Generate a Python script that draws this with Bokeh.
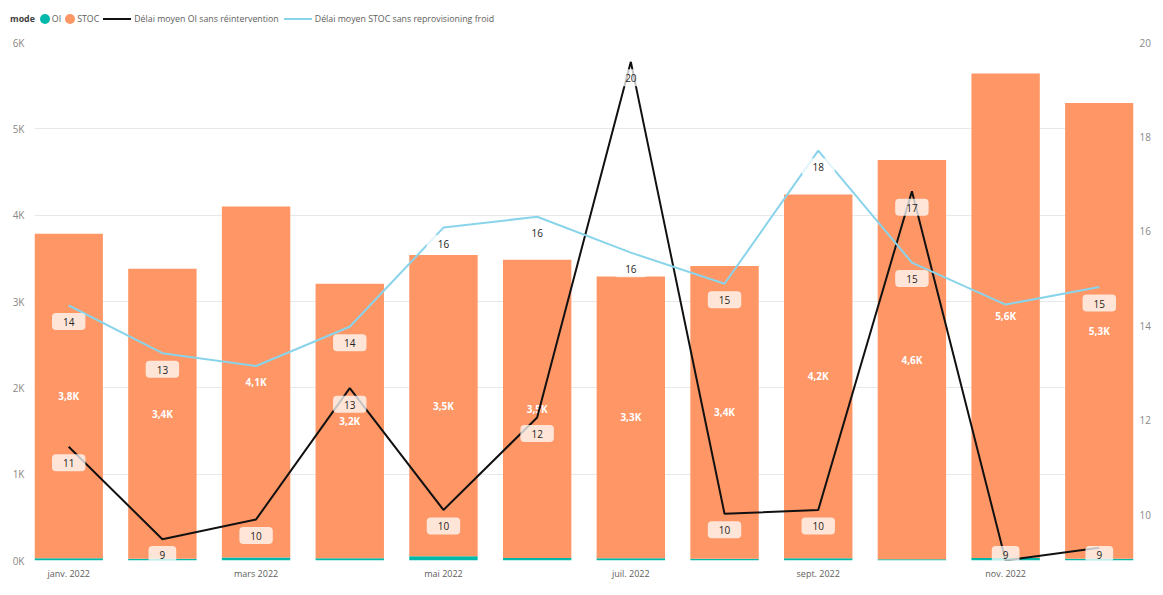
from bokeh.plotting import figure
from bokeh.layouts import column
from bokeh.models import (ColumnDataSource, Range1d, LinearAxis, FixedTicker, Div)
from bokeh.core.properties import value
from bokeh.embed import file_html
from bokeh.resources import INLINE

# ---------------- data ----------------
months = ["janv. 2022", "févr. 2022", "mars 2022", "avr. 2022", "mai 2022", "juin 2022",
          "juil. 2022", "août 2022", "sept. 2022", "oct. 2022", "nov. 2022", "déc. 2022"]
oi_count = [25, 20, 35, 25, 50, 30, 25, 20, 25, 15, 30, 20]
stoc_count = [3760, 3360, 4065, 3180, 3490, 3455, 3265, 3390, 4215, 4625, 5610, 5280]
delai_oi = [11.44, 9.48, 9.90, 12.68, 10.10, 12.06, 19.59, 10.02, 10.10, 16.85, 9.03, 9.30]
delai_stoc = [14.43, 13.42, 13.15, 13.98, 16.08, 16.31, 15.55, 14.89, 17.71, 15.34, 14.45, 14.82]
left_ticks = [0, 1000, 2000, 3000, 4000, 5000, 6000]
left_tick_labels = ["0K", "1K", "2K", "3K", "4K", "5K", "6K"]
right_ticks = [10, 12, 14, 16, 18, 20]
x_label_idx = [0, 2, 4, 6, 8, 10]
hidden_stoc_labels = [2, 10]   # labels hidden by Power BI (overlap)
legend_title = "mode"
series_names = ["OI", "STOC"]
line_names = ["Délai moyen OI sans réintervention",
              "Délai moyen STOC sans reprovisioning froid"]

# ---------------- style ----------------
TEAL = "#01B8AA"
ORANGE = "#FE9666"
LBLUE = "#8AD4EB"
BLACK = "#111111"
FONT = "Open Sans"

W = 1147
LH = 30                      # legend strip height
FW, FH = 1099, 518
ML, MR, MT, MB = 34, 14, 12, 19
R_MIN, R_MAX = 9.03, 20
bar_w = 0.73

n = len(months)
xs = list(range(n))

# ---------------- legend strip ----------------
def dot(c):
    return ('<span style="display:inline-block;width:10px;height:10px;border-radius:50%%;'
            'background:%s;margin-right:2px"></span>' % c)


def seg(c):
    return ('<span style="display:inline-block;width:28px;height:2px;background:%s;'
            'margin-right:3px"></span>' % c)


html = ('<div style="display:flex;align-items:center;box-sizing:border-box;height:%dpx;'
        'padding:8px 0 0 10px;font-family:\'%s\';font-size:8.8px;color:#605E5C;white-space:nowrap">'
        % (LH, FONT))
html += '<span style="font-weight:bold;color:#404040;margin-right:5px">%s</span>' % legend_title
html += dot(TEAL) + '<span style="margin-right:4px">%s</span>' % series_names[0]
html += dot(ORANGE) + '<span style="margin-right:4px">%s</span>' % series_names[1]
html += seg(BLACK) + '<span style="margin-right:5px">%s</span>' % line_names[0]
html += seg(LBLUE) + '<span>%s</span>' % line_names[1]
html += '</div>'
legend_div = Div(text=html, width=W, height=LH, margin=0)

# ---------------- chart ----------------
p = figure(frame_width=FW, frame_height=FH, output_backend="svg", toolbar_location=None,
           x_range=Range1d(-bar_w / 2, n - 1 + bar_w / 2), y_range=Range1d(0, 6000),
           min_border_left=ML, min_border_right=MR, min_border_top=MT, min_border_bottom=MB,
           title=None)
p.extra_y_ranges = {"delai": Range1d(R_MIN, R_MAX)}
p.outline_line_color = None
p.xgrid.visible = False
p.ygrid.grid_line_color = "#E8E8E8"
p.ygrid.ticker = FixedTicker(ticks=left_ticks)

xa = p.xaxis[0]
xa.ticker = FixedTicker(ticks=x_label_idx)
xa.major_label_overrides = {i: months[i] for i in x_label_idx}
ya = p.yaxis[0]
ya.ticker = FixedTicker(ticks=left_ticks)
ya.major_label_overrides = {t: l for t, l in zip(left_ticks, left_tick_labels)}
ra = LinearAxis(y_range_name="delai", ticker=FixedTicker(ticks=right_ticks))
p.add_layout(ra, "right")
for ax, fs, col in ((xa, "9px", "#605E5C"), (ya, "10px", "#8A8886"), (ra, "10px", "#8A8886")):
    ax.axis_line_color = None
    ax.major_tick_line_color = None
    ax.minor_tick_line_color = None
    ax.major_tick_out = 0
    ax.major_tick_in = 0
    ax.minor_tick_out = 0
    ax.minor_tick_in = 0
    ax.major_label_text_font = FONT
    ax.major_label_text_font_size = fs
    ax.major_label_text_color = col
xa.major_label_standoff = 6
ya.major_label_standoff = 10
ra.major_label_standoff = 6

# bars
tops = [o + s for o, s in zip(oi_count, stoc_count)]
mids = [o + s / 2 for o, s in zip(oi_count, stoc_count)]
bar_lbl = [("%.1fK" % (s / 1000)).replace(".", ",") for s in stoc_count]
bsrc = ColumnDataSource(dict(x=xs, oi=oi_count, top=tops, mid=mids, lbl=bar_lbl))
p.vbar(x="x", bottom=0, top="oi", width=bar_w, fill_color=TEAL, line_color=None, source=bsrc)
p.vbar(x="x", bottom="oi", top="top", width=bar_w, fill_color=ORANGE, line_color=None, source=bsrc)
p.text(x="x", y="mid", text="lbl", source=bsrc, text_color="white",
       text_font=value(FONT), text_font_size="10px", text_font_style="bold",
       text_align="center", text_baseline="middle")

# lines
p.line(xs, delai_oi, y_range_name="delai", line_color=BLACK, line_width=2)
p.line(xs, delai_stoc, y_range_name="delai", line_color=LBLUE, line_width=2)

# point labels
px_per = FH / (R_MAX - R_MIN)


def lab_src(vals, hidden):
    d = dict(x=[], y=[], t=[], off=[])
    for i, v in enumerate(vals):
        if i in hidden:
            continue
        d["x"].append(i)
        d["y"].append(v)
        d["t"].append(str(int(round(v))))
        d["off"].append(min(16, (v - R_MIN) * px_per - 6))
    return ColumnDataSource(d)


for src in (lab_src(delai_stoc, hidden_stoc_labels), lab_src(delai_oi, [])):
    p.text(x="x", y="y", text="t", y_offset="off", source=src, y_range_name="delai",
           text_color="#252423", text_font=value(FONT), text_font_size="10px",
           text_align="center", text_baseline="middle",
           background_fill_color="white", background_fill_alpha=0.75,
           padding=dict(left=11, right=11, top=5, bottom=4), border_radius=4)

open("out.html", "w").write(file_html(column(legend_div, p, spacing=0), INLINE))
